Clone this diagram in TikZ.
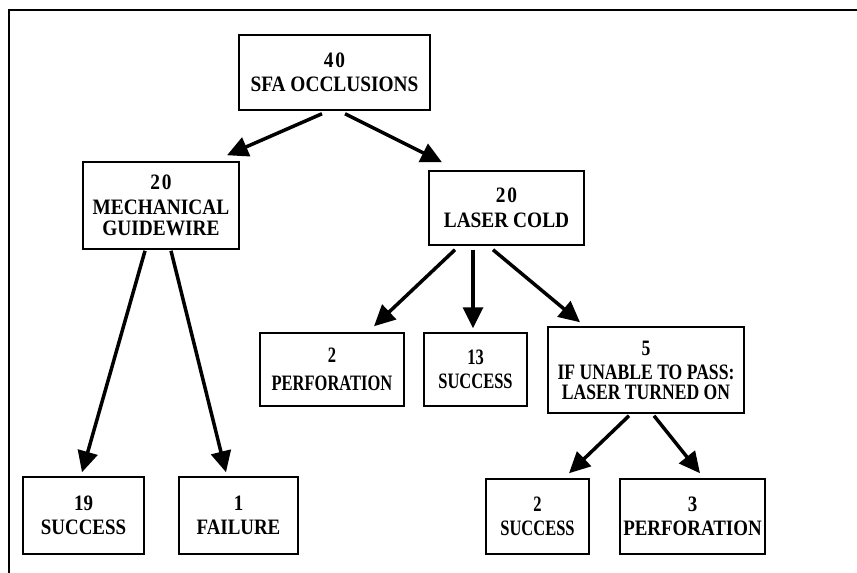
\documentclass[tikz,border=0pt]{standalone}
\usepackage{fontspec}
\setmainfont{Liberation Serif}
\newfontfamily\fa{Liberation Serif}[FakeStretch=0.88]
\newfontfamily\fd{Liberation Serif}[FakeStretch=0.86]
\newfontfamily\fb{Liberation Serif}[FakeStretch=0.75]
\newfontfamily\fc{Liberation Serif}[FakeStretch=0.80]
\usetikzlibrary{arrows.meta,calc}
\begin{document}
\begin{tikzpicture}[x=1pt,y=-1pt,
  box/.style={draw,line width=1.5pt,align=center,inner sep=0pt},
  wa/.style={font=\fa\fontsize{22}{21.5}\selectfont\bfseries},
  wd/.style={font=\fd\fontsize{22}{21.5}\selectfont\bfseries},
  wb/.style={font=\fb\fontsize{22}{21.5}\selectfont\bfseries},
  wc/.style={font=\fc\fontsize{22}{20}\selectfont\bfseries},
  arr/.style={line width=3.5pt,-{Triangle[length=21pt,width=20pt]}}]
\useasboundingbox (0,0) rectangle (857,573);
\draw[line width=1.8pt] (857,10) -- (9,10) -- (9,573);

\node[box,wa,minimum width=191pt,minimum height=75pt] (sfa) at (334.5,72.5) {4\kern2pt0\\[3pt]SFA OCCLUSIONS};
\node[box,wa,minimum width=156pt,minimum height=87pt] (mech) at (161,205.5) {2\kern2pt0\\[3pt]MECHANICAL\\GUIDEWIRE};
\node[box,wa,minimum width=155pt,minimum height=74pt] (laser) at (506.5,208) {2\kern2pt0\\[3pt]LASER COLD};
\node[box,wb,minimum width=144pt,minimum height=73pt] (perfA) at (332,369.5) {2\\[6pt]PERFORATION};
\node[box,wb,minimum width=103pt,minimum height=73pt] (succA) at (475.5,369.5) {13\\[2pt]SUCCESS};
\node[box,wc,minimum width=196pt,minimum height=86pt] (five) at (646,370) {5\\[4pt]IF UNABLE TO PASS:\\LASER TURNED ON};
\node[box,wb,minimum width=103pt,minimum height=75pt] (succB) at (537.5,516.5) {2\\[2pt]SUCCESS};
\node[box,wd,minimum width=145pt,minimum height=75pt] (perfB) at (692.5,516.5) {3\\[2pt]PERFORATION};
\node[box,wd,minimum width=121pt,minimum height=77pt] (succC) at (83.5,515.5) {19\\[2pt]SUCCESS};
\node[box,wd,minimum width=119pt,minimum height=77pt] (fail) at (238.5,515.5) {1\\[2pt]FAILURE};

\draw[arr] ($(sfa.south)+(-12.5,3)$) -- ($(mech.north)+(66,-6)$);
\draw[arr] ($(sfa.south)+(10.5,3)$) -- ($(laser.north)+(-64.5,-8)$);
\draw[arr] ($(mech.south)+(-16,1)$) -- ($(succC.north)+(-1.5,-4)$);
\draw[arr] ($(mech.south)+(10,1)$) -- ($(fail.north)+(-12.5,-4)$);
\draw[arr] ($(laser.south)+(-51.5,4)$) -- ($(perfA.north)+(42,-6)$);
\draw[arr] ($(laser.south)+(-33.5,4)$) -- ($(succA.north)+(-2.5,-4)$);
\draw[arr] ($(laser.south)+(-13.5,4)$) -- ($(five.north)+(-66,-4)$);
\draw[arr] ($(five.south)+(-17,2)$) -- ($(succB.north)+(31.5,-5)$);
\draw[arr] ($(five.south)+(8,2)$) -- ($(perfB.north)+(7.5,-5)$);
\end{tikzpicture}
\end{document}
